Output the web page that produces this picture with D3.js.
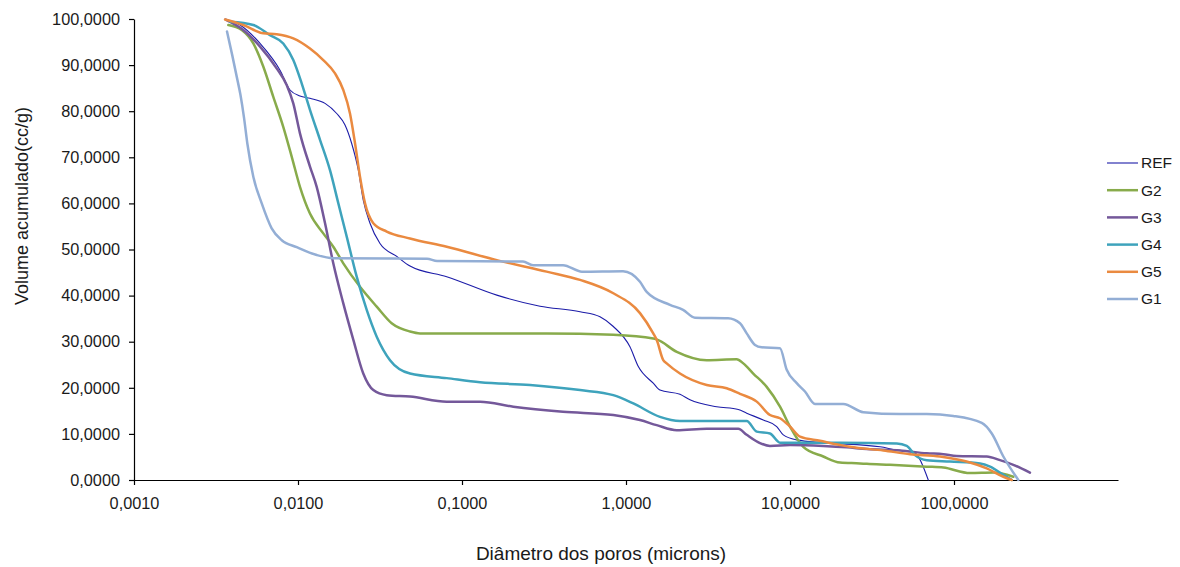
<!DOCTYPE html>
<html>
<head>
<meta charset="utf-8">
<script src="https://cdn.jsdelivr.net/npm/d3@7"></script>
<style>
  html, body { margin: 0; padding: 0; background: #fff; }
  svg text { font-family: "Liberation Sans", Arial, sans-serif; fill: #1a1a1a; }
</style>
</head>
<body>
<svg id="chart" width="1180" height="567"></svg>
<script>
// Cumulative intrusion volume vs. pore diameter, pairs of [diameter (microns), volume (cc/g)]
const REF = [[0.00359,100],[0.00443,98.7],[0.00587,94.7],[0.00777,88.9],[0.00894,84.6],[0.01028,83.3],[0.01183,82.8],[0.01462,81.7],[0.01722,79.5],[0.01935,77],[0.02125,73],[0.02333,67.2],[0.025,60.7],[0.02748,55.7],[0.03162,51.3],[0.04,48.5],[0.0482,46.4],[0.0807,44.1],[0.163,40.1],[0.299,37.7],[0.525,36.5],[0.694,35.4],[0.837,33.3],[1.057,28.9],[1.189,24.6],[1.466,21],[1.61,19.5],[2.133,18.6],[2.455,17.4],[3.572,15.9],[4.84,15.3],[5.445,14.5],[6.87,13],[8.3,11.6],[9.1,9.8],[10.99,8.7],[15.96,8.1],[35.4,7.2],[44.8,6.5],[56.5,6.1],[69.7,0]];
const G2 = [[0.00376,98.7],[0.00454,97.6],[0.00534,94.7],[0.00614,89.7],[0.00707,83.1],[0.00813,76.6],[0.00916,70.1],[0.01028,63.6],[0.01183,57.8],[0.01426,53.5],[0.01641,50.6],[0.01889,47],[0.02388,41.9],[0.0302,37.6],[0.03725,34],[0.0482,32.2],[0.0555,31.8],[0.328,31.8],[0.837,31.5],[1.466,30.7],[1.538,30.5],[2.04,27.8],[3.105,26],[4.73,26.2],[5.19,25.3],[5.97,23.1],[7.21,20.2],[8.69,15.9],[10.0,11.6],[12.05,7.2],[15.96,5.1],[20.18,3.8],[26.7,3.6],[29.4,3.5],[40.7,3.3],[68.2,2.9],[86.1,2.7],[125.2,1.5],[173.8,1.6],[230,0.7]];
const G3 = [[0.00364,99.8],[0.00464,97.6],[0.00587,94],[0.00741,89.3],[0.00853,85.7],[0.00936,81.7],[0.01028,75.2],[0.01183,68],[0.013,63.6],[0.01462,55.7],[0.01641,47],[0.01889,38.3],[0.02175,30.4],[0.025,23.1],[0.02879,19.5],[0.03474,18.4],[0.0482,18.1],[0.0807,17],[0.1288,17],[0.2056,15.9],[0.413,14.8],[0.837,14.1],[1.217,13],[1.538,11.9],[2.04,10.8],[3.105,11.1],[4.84,11.1],[5.445,9.8],[6.56,8],[7.55,7.4],[10.0,7.6],[15.96,7.4],[22.17,7.1],[29.4,6.7],[46.9,6.4],[68.2,5.8],[86.1,5.6],[103.8,5.2],[158.4,5.1],[190.7,4.3],[230,3.3],[290.5,1.6]];
const G4 = [[0.00385,99.4],[0.00534,98.7],[0.00675,96.5],[0.00813,94.7],[0.00936,91.1],[0.01054,86],[0.01183,80.3],[0.01362,73.8],[0.01567,67.2],[0.01762,60],[0.01982,52.8],[0.0228,44.1],[0.02624,36.9],[0.0302,31.1],[0.0364,26],[0.0482,23.1],[0.0807,22.1],[0.1288,21.2],[0.26,20.6],[0.525,19.5],[0.837,18.4],[1.109,16.6],[1.61,13.7],[2.133,12.8],[5.445,12.8],[6.27,10.5],[7.55,10.1],[8.69,8.1],[20.18,8.1],[44.8,7.9],[51.5,7.4],[57.8,5.4],[68.2,4.3],[94.6,4],[144.1,3.6],[166,2.9],[200,1.1],[224.9,0]];
const G5 = [[0.00359,99.9],[0.00464,98.7],[0.00614,96.9],[0.00741,96.7],[0.00936,95.8],[0.01183,93.6],[0.01426,91.1],[0.01682,88.2],[0.01889,84.6],[0.02075,79.5],[0.02228,73],[0.02388,65.8],[0.02563,60],[0.02879,55.7],[0.03474,53.9],[0.0482,52.4],[0.0807,50.6],[0.163,47.7],[0.328,45.2],[0.525,43.4],[0.837,40.5],[1.217,36.2],[1.466,31.8],[1.538,30.4],[1.687,26],[1.77,25.3],[2.133,23.1],[3.105,20.6],[4.11,19.9],[4.955,18.7],[6.27,17],[7.55,14.1],[8.69,13.4],[10.0,11.6],[11.51,9.4],[15.24,8.5],[20.18,7.6],[23.2,7.2],[37.1,6.4],[54.0,5.6],[82.2,5.1],[119.4,4],[158.4,2.5],[200,0.7],[224.9,0]];
const G1 = [[0.00369,97.3],[0.00398,92.0],[0.00423,87.5],[0.00446,83.5],[0.00469,78.5],[0.00491,73],[0.00534,65.8],[0.00601,60],[0.00691,54.6],[0.00796,52],[0.00982,50.5],[0.013,48.8],[0.0164,48.1],[0.0612,48],[0.0705,47.5],[0.2355,47.4],[0.271,46.6],[0.413,46.6],[0.539,45.2],[0.959,45.3],[1.217,43],[1.337,40.8],[1.854,38],[2.228,36.9],[2.635,35.2],[4.19,35.1],[4.955,34],[5.445,31.8],[6.12,29.3],[6.72,28.8],[8.69,28.6],[9.55,23.9],[10.99,21],[12.34,19.2],[14.2,16.5],[21.13,16.5],[28.0,14.7],[46.9,14.3],[68.2,14.3],[99.1,13.9],[147.6,12.4],[170,10.1],[200,5.1],[246.7,0]];

const seriesNames = ["REF", "G2", "G3", "G4", "G5", "G1"];
const seriesData = [REF, G2, G3, G4, G5, G1];
const seriesColors = ["#1c1ca8", "#88ab4b", "#74589a", "#3ea3bc", "#ea8a40", "#93aed5"];
const seriesWidths = [1.1, 2.5, 2.5, 2.5, 2.5, 2.5];

const xTicks = [0.001, 0.01, 0.1, 1, 10, 100];
const yTicks = [0, 10, 20, 30, 40, 50, 60, 70, 80, 90, 100];

const svg = d3.select("#chart");

const x = d3.scaleLog().domain([0.001, 1000]).range([134, 1118]);
const y = d3.scaleLinear().domain([0, 100]).range([480, 19]);

const ptLocale = d3.formatLocale({ decimal: ",", thousands: ".", grouping: [3], currency: ["", ""] });
const fmt = ptLocale.format(".4f");

// Y axis
const gy = svg.append("g")
  .attr("transform", `translate(${x(0.001)},0)`)
  .call(d3.axisLeft(y).tickValues(yTicks).tickFormat(fmt).tickSize(5).tickSizeOuter(0).tickPadding(9));
gy.selectAll("text").style("font-size", "16.3px");

// X axis
const gx = svg.append("g")
  .attr("transform", `translate(0,${y(0)})`)
  .call(d3.axisBottom(x).tickValues(xTicks).tickFormat(fmt).tickSize(5).tickSizeOuter(0).tickPadding(12));
gx.selectAll("text").style("font-size", "16.3px");

svg.selectAll(".domain, .tick line").attr("stroke", "#000").attr("stroke-width", 1.2);

// Series lines
const line = d3.line()
  .x(d => x(d[0]))
  .y(d => y(d[1]))
  .curve(d3.curveMonotoneX);

svg.append("g").selectAll("path")
  .data(seriesData)
  .join("path")
  .attr("d", line)
  .attr("fill", "none")
  .attr("stroke", (d, i) => seriesColors[i])
  .attr("stroke-width", (d, i) => seriesWidths[i])
  .attr("stroke-linejoin", "round")
  .attr("stroke-linecap", "round");

// Axis titles
svg.append("text")
  .attr("x", 601).attr("y", 560)
  .attr("text-anchor", "middle")
  .style("font-size", "19px")
  .text("Diâmetro dos poros (microns)");

svg.append("text")
  .attr("transform", "translate(28,206) rotate(-90)")
  .attr("text-anchor", "middle")
  .style("font-size", "18px")
  .text("Volume acumulado(cc/g)");

// Legend
const legY = d3.scalePoint().domain(seriesNames).range([163, 299]);
const leg = svg.append("g").selectAll("g")
  .data(seriesNames)
  .join("g")
  .attr("transform", d => `translate(1107,${legY(d)})`);
leg.append("line")
  .attr("x1", 0).attr("x2", 31)
  .attr("stroke", (d, i) => seriesColors[i])
  .attr("stroke-width", (d, i) => seriesWidths[i]);
leg.append("text")
  .attr("x", 34).attr("dy", "0.35em")
  .style("font-size", "15.5px")
  .text(d => d);
</script>
</body>
</html>
